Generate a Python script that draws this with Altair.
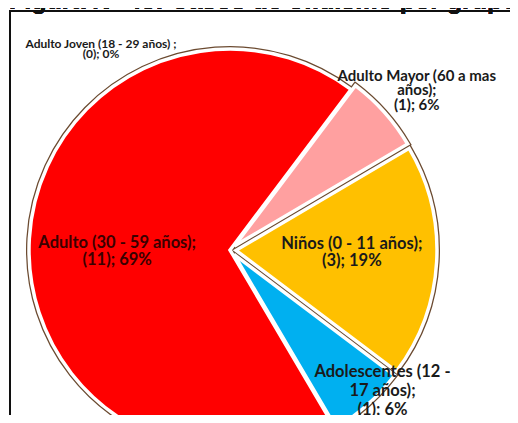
import math
import altair as alt
import pandas as pd

# ---- data ----
categorias = [
    "Adulto Mayor (60 a mas años)",
    "Niños (0 - 11 años)",
    "Adolescentes (12 - 17 años)",
    "Adulto (30 - 59 años)",
    "Adulto Joven (18 - 29 años)",
]
casos = [1, 3, 1, 11, 0]
porcentajes = [6, 19, 6, 69, 0]
etiquetas = [
    "Adulto Mayor (60 a mas\naños);\n(1); 6%",
    "Niños (0 - 11 años);\n(3); 19%",
    "Adolescentes  (12 -\n17 años);\n(1); 6%",
    "Adulto (30 - 59 años);\n(11); 69%",
    "Adulto Joven (18 - 29 años) ;\n(0); 0%",
]
colores = ["#FFA0A0", "#FFC000", "#00B0F0", "#FF0000", "#92D050"]
explosion = [6, 6, 6, 0, 0]
titulo = "Figura N° 43: Casos de ofidismo por grupo etáreo"

df = pd.DataFrame({
    "cat": categorias,
    "casos": casos,
    "pct": porcentajes,
    "label": etiquetas,
    "orden": list(range(len(categorias))),
})

W, H = 502, 407
CX, CY = 222, 242
R = 201
start_deg = 37
start = math.radians(start_deg)

theta = alt.Theta("casos:Q", stack=True,
                  scale=alt.Scale(range=[start, start + 2 * math.pi]))
color = alt.Color("cat:N", scale=alt.Scale(domain=categorias, range=colores), legend=None)
order = alt.Order("orden:Q")

base = alt.Chart(df).encode(theta=theta, order=order,
                            x=alt.value(CX), y=alt.value(CY))

# exploded slices: shift each slice along its mid-angle
total = sum(casos)
rims, pies = [], []
acc = 0
for cat, n, d in zip(categorias, casos, explosion):
    mid = start + 2 * math.pi * (acc + n / 2) / total
    acc += n
    if n == 0:
        continue
    ox, oy = CX + d * math.sin(mid), CY - d * math.cos(mid)
    show = alt.condition(alt.datum.cat == cat, alt.value(1), alt.value(0))
    sl = alt.Chart(df).encode(theta=theta, order=order, color=color,
                              x=alt.value(ox), y=alt.value(oy), opacity=show)
    rims.append(sl.mark_arc(outerRadius=R, stroke="#6b4a30", strokeWidth=6))
    pies.append(sl.mark_arc(outerRadius=R, stroke="white", strokeWidth=3.5, strokeJoin="miter"))


def etiqueta(cat_name, radius, size, lh, dx=0, dy=0, col="#1a1a1a"):
    return base.mark_text(
        radius=radius, fontSize=size, font="Lato", fontWeight="bold",
        lineBreak="\n", lineHeight=lh, align="center", baseline="middle",
        dx=dx, dy=dy, color=col,
    ).encode(
        text=alt.condition(alt.datum.cat == cat_name, alt.Text("label:N"), alt.value(""))
    )

t_mayor = etiqueta(categorias[0], 245, 15, 14.5, dx=4, dy=-11)
t_ninos = etiqueta(categorias[1], 122, 16.5, 17, dy=-13)
t_adol = etiqueta(categorias[2], 205, 16.5, 19, dx=16, dy=-31)
t_adulto = etiqueta(categorias[3], 113, 16.5, 17, dy=-1, col="#3a0000")
t_joven = etiqueta(categorias[4], 0, 12, 10, dx=-129, dy=-206)

frame = alt.Chart(df).mark_rect(fill=None, stroke="#111111", strokeWidth=1.5).encode(
    x=alt.value(2), y=alt.value(3), x2=alt.value(900), y2=alt.value(900)
)

title_txt = alt.Chart(df).mark_text(
    fontSize=25, font="Liberation Sans", fontWeight="bold", align="left",
    baseline="alphabetic", color="#111111"
).encode(x=alt.value(1), y=alt.value(1), text=alt.value(titulo))

chart = alt.layer(frame, *rims, *pies, t_mayor, t_ninos, t_adol, t_adulto, t_joven, title_txt).properties(
    width=W, height=H, autosize=alt.AutoSizeParams(type="none"), padding=0,
    background="white",
).configure_view(stroke=None)

chart.save("out.html", embed_options={"renderer": "svg", "actions": False})
